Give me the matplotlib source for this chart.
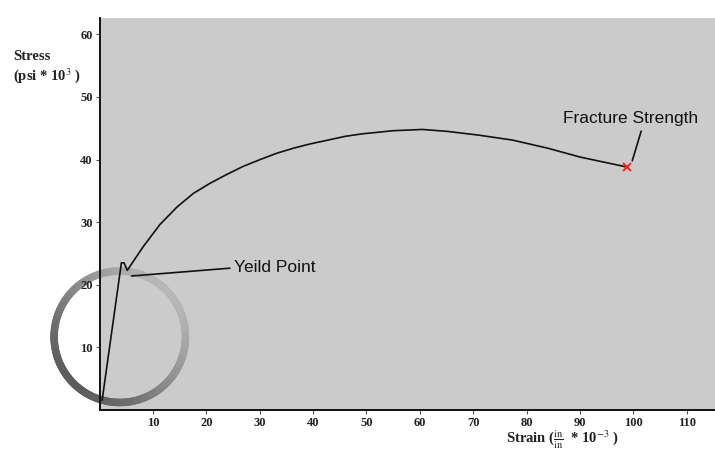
import numpy as np
import matplotlib.pyplot as plt
from matplotlib.collections import LineCollection

plt.rcParams['mathtext.fontset'] = 'stix'

# values
strain = [0.5, 4.1, 4.6, 5.2, 8.2, 11.3, 14.5, 17.6, 20.7, 23.8, 26.9, 30.1,
          33.2, 36.3, 39.5, 42.8, 46.0, 49.2, 55.0, 60.5, 65.1, 71.0, 77.4,
          84.0, 90.0, 98.8]
stress = [1.6, 23.5, 23.5, 22.3, 26.1, 29.6, 32.4, 34.6, 36.2, 37.6, 38.9, 40.0,
          41.0, 41.8, 42.5, 43.1, 43.7, 44.1, 44.6, 44.8, 44.5, 43.9, 43.1,
          41.8, 40.4, 38.8]
xticks = [10, 20, 30, 40, 50, 60, 70, 80, 90, 100, 110]
yticks = [10, 20, 30, 40, 50, 60]

yield_pt = (6.0, 21.4)
fracture_pt = (strain[-1], stress[-1])

serif = ['Liberation Serif', 'DejaVu Serif']
sans = ['Liberation Sans', 'DejaVu Sans']

W, H = 715, 453
fig = plt.figure(figsize=(W / 100, H / 100), dpi=100)
ax = fig.add_axes([99.5 / W, 1 - 410 / H, 1 - 99.5 / W, (410 - 18) / H])
ax.set_facecolor('#cbcbcb')
ax.set_xlim(0, 115.3)
ax.set_ylim(0, 62.6)

for s in ['top', 'right']:
    ax.spines[s].set_visible(False)
for s in ['left', 'bottom']:
    ax.spines[s].set_linewidth(1.4)
    ax.spines[s].set_color('#111111')

ax.set_xticks(xticks)
ax.set_yticks(yticks)
ax.tick_params(direction='out', length=3, width=0.8, color='#555555', pad=2,
               labelsize=9)
for lab in ax.get_xticklabels() + ax.get_yticklabels():
    lab.set_family(serif)
    lab.set_fontweight('bold')
    lab.set_color('#222222')

# grey highlight ring around the elastic region
cx, cy, rx, ry = 3.8, 11.7, 12.3, 10.5
t = np.linspace(0, 2 * np.pi, 240)
px = cx + rx * np.cos(t)
py = cy + ry * np.sin(t)
pts = np.column_stack([px, py]).reshape(-1, 1, 2)
segs = np.concatenate([pts[:-1], pts[1:]], axis=1)
shade = 0.36 + 0.36 * (1 + np.cos(t[:-1] - np.pi / 4)) / 2
ring = LineCollection(segs, colors=[(g, g, g) for g in shade], linewidths=5.4,
                      capstyle='round', clip_on=False, zorder=1.5)
ax.add_collection(ring)

ax.plot(strain, stress, color='#111111', lw=1.2, zorder=3)
ax.plot(*fracture_pt, marker='x', color='#ff2020', ms=6, mew=1.4, zorder=4)

ax.annotate('Yeild Point', xy=yield_pt, xytext=(25.2, 22.7),
            ha='left', va='center', fontsize=12.5, family=sans, color='#111111',
            arrowprops=dict(arrowstyle='-', lw=1.2, color='#111111',
                            shrinkA=1, shrinkB=0, relpos=(0, 0.5)))
ax.annotate('Fracture Strength', xy=(99.8, 39.8), xytext=(99.5, 45.4),
            ha='center', va='bottom', fontsize=12.5, family=sans, color='#111111',
            arrowprops=dict(arrowstyle='-', lw=1.2, color='#111111',
                            shrinkA=2, shrinkB=0, relpos=(0.59, 0)))

fig.text(13 / W, 1 - 60 / H, 'Stress', family=serif, fontweight='bold',
         fontsize=10.5, color='#222222', va='baseline')
fig.text(13 / W, 1 - 80 / H, '(psi * 10$^{3}$ )', family=serif, fontweight='bold',
         fontsize=10.5, color='#222222', va='baseline')
fig.text(506 / W, 1 - 443 / H, r'Strain ($\frac{\mathrm{in}}{\mathrm{in}}$  * 10$^{-3}$ )',
         family=serif, fontweight='bold', fontsize=10.5, color='#222222',
         va='baseline')

fig.savefig('out.png', dpi=100, facecolor='white')
